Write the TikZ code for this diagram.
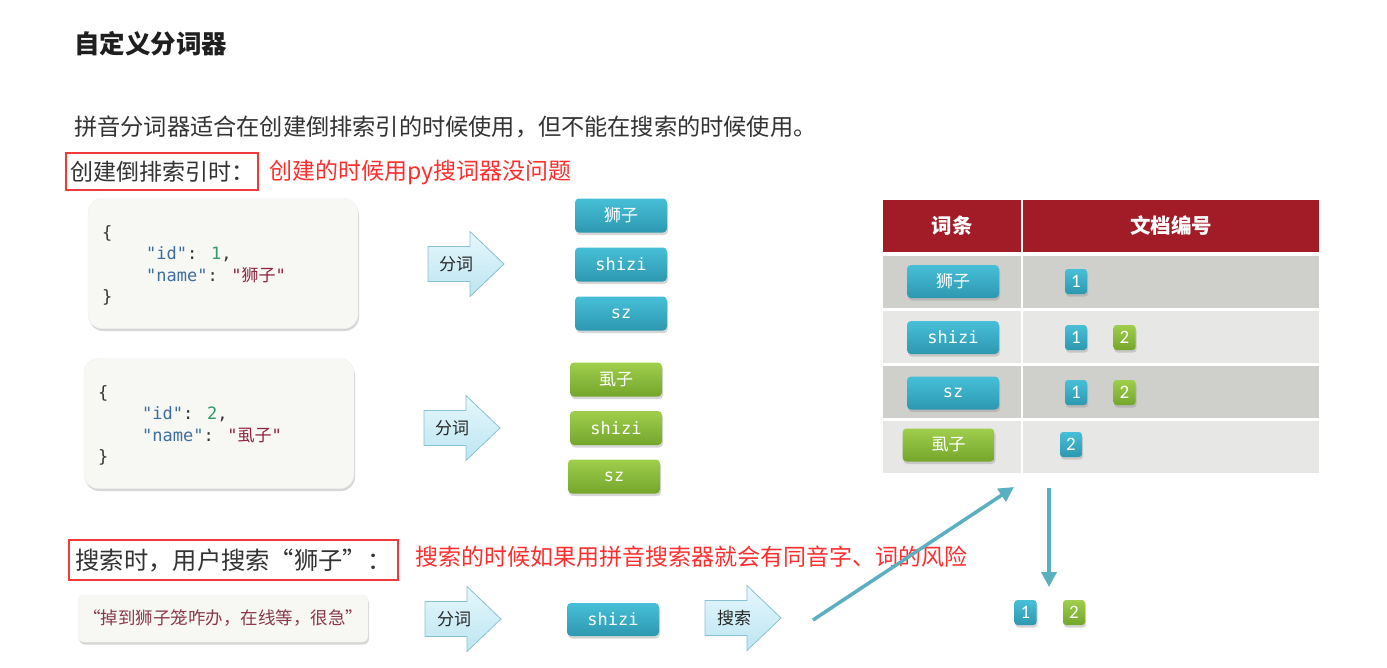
\documentclass[tikz,border=0pt]{standalone}
\usepackage{fontspec}
\setmainfont{Noto Sans CJK SC}
\newfontfamily\cjk{Noto Sans CJK SC}
\newfontfamily\mono{DejaVu Sans Mono}
\newfontfamily\digitfont{Carlito}
\usetikzlibrary{shadows,arrows.meta}
\definecolor{hdr}{HTML}{A11C27}
\definecolor{rowdark}{HTML}{CFCFCC}
\definecolor{rowlight}{HTML}{E7E7E6}
\definecolor{tealtop}{HTML}{47BFD8}
\definecolor{tealbot}{HTML}{2D98B0}
\definecolor{greentop}{HTML}{A0CE4C}
\definecolor{greenbot}{HTML}{74A62C}
\definecolor{redc}{HTML}{FF2E2E}
\definecolor{redbox}{HTML}{F23A3A}
\definecolor{keyc}{HTML}{3D6E9F}
\definecolor{numc}{HTML}{36996A}
\definecolor{strc}{HTML}{8E2444}
\definecolor{bodyc}{HTML}{333333}
\definecolor{arrline}{HTML}{5AAFC0}
\definecolor{arrtop}{HTML}{E6F7FC}
\definecolor{arrbot}{HTML}{BCE5F1}
\definecolor{arrdraw}{HTML}{88C2D2}
\definecolor{jsonfill}{HTML}{F7F7F3}
\definecolor{quotec}{HTML}{8A3A4C}
\tikzset{
  softshadow/.style={drop shadow={shadow xshift=1pt,shadow yshift=-2.5pt,opacity=0.35,fill=black!45}},
  tok/.style={rounded corners=4pt,inner sep=0pt,text=white,minimum width=92pt,minimum height=34pt,softshadow,font=\mono\fontsize{17}{17}\selectfont},
  bluetok/.style={tok,top color=tealtop,bottom color=tealbot},
  greentok/.style={tok,top color=greentop,bottom color=greenbot},
  badge/.style={rounded corners=3pt,inner sep=0pt,text=white,minimum width=22pt,minimum height=25pt,softshadow,font=\digitfont\fontsize{19}{19}\selectfont},
  bluebadge/.style={badge,top color=tealtop,bottom color=tealbot},
  greenbadge/.style={badge,top color=greentop,bottom color=greenbot},
  codebox/.style={rounded corners=14pt,fill=jsonfill,draw=black!6,minimum width=270pt,minimum height=130pt,softshadow},
  code/.style={anchor=west,inner sep=0pt,text=bodyc,font=\mono\fontsize{17}{17}\selectfont},
  arrtext/.style={inner sep=0pt,text=black!85,font=\fontsize{17}{17}\selectfont},
  redframe/.style={draw=redbox,line width=2.4pt,inner sep=0pt,text=bodyc},
  redtext/.style={anchor=west,inner sep=0pt,text=redc},
  hdrtext/.style={inner sep=0pt,text=white,font=\fontsize{20.5}{20.5}\selectfont\bfseries},
  blockarr/.pic={\path[top color=arrtop,bottom color=arrbot,draw=arrdraw,line width=0.8pt]
     (0,-17.5) -- (42,-17.5) -- (42,-32.5) -- (76,0) -- (42,32.5) -- (42,17.5) -- (0,17.5) -- cycle;},
  conn/.style={draw=arrline,line width=3.5pt,-{Triangle[length=15pt,width=15pt]}}
}
\begin{document}
\begin{tikzpicture}[x=1pt,y=-1pt]
\useasboundingbox[fill=white] (0,0) rectangle (1387,667);

% title and intro
\node[anchor=west,inner sep=0pt,text=black!88,font=\fontsize{25.5}{25.5}\selectfont\bfseries] (title) at (74,44) {自定义分词器};
\node[anchor=west,inner sep=0pt,text=bodyc,font=\fontsize{23.2}{23.2}\selectfont] (intro) at (74,127) {拼音分词器适合在创建倒排索引的时候使用，但不能在搜索的时候使用。};

% section 1 label
\node[redframe,minimum width=192pt,minimum height=37pt,font=\fontsize{23}{23}\selectfont] (lab1) at (162,171.5) {创建倒排索引时：};
\node[redtext,font=\fontsize{23}{23}\selectfont] (note1) at (269,172) {创建的时候用py搜词器没问题};

% json 1
\node[codebox] (json1) at (223,263.5) {};
\node[code] (j1a) at (102,233) {\{};
\node[code] (j1b) at (146,254) {\textcolor{keyc}{"id"}: \textcolor{numc}{1},};
\node[code] (j1c) at (146,275) {\textcolor{keyc}{"name"}: \textcolor{strc}{"{\cjk 狮子}"}};
\node[code] (j1d) at (102,297) {\}};

\pic at (428,264) {blockarr};
\node[arrtext] (fc1) at (456,264) {分词};

\node[bluetok] (a1) at (621,215.5) {\cjk 狮子};
\node[bluetok] (a2) at (621,264.5) {shizi};
\node[bluetok] (a3) at (621,313.5) {sz};

% json 2
\node[codebox] (json2) at (219,423.5) {};
\node[code] (j2a) at (98,393) {\{};
\node[code] (j2b) at (142,414) {\textcolor{keyc}{"id"}: \textcolor{numc}{2},};
\node[code] (j2c) at (142,436) {\textcolor{keyc}{"name"}: \textcolor{strc}{"{\cjk 虱子}"}};
\node[code] (j2d) at (98,457) {\}};

\pic at (424,428) {blockarr};
\node[arrtext] (fc2) at (452,428) {分词};

\node[greentok] (g1) at (616,379.5) {\cjk 虱子};
\node[greentok] (g2) at (616,428) {shizi};
\node[greentok] (g3) at (614,476.5) {sz};

% table
\fill[hdr] (883,200) rectangle (1021,252);
\fill[hdr] (1023,200) rectangle (1319,252);
\node[hdrtext] (h1) at (952,226) {词条};
\node[hdrtext] (h2) at (1171,226) {文档编号};
\foreach \i/\c in {0/rowdark,1/rowlight,2/rowdark,3/rowlight}{
  \fill[\c] (883,256+55*\i) rectangle (1021,308+55*\i);
  \fill[\c] (1023,256+55*\i) rectangle (1319,308+55*\i);
}
\node[bluetok,minimum height=33pt] (t1) at (953,281.5) {\cjk 狮子};
\node[bluetok,minimum height=33pt] (t2) at (953,337.5) {shizi};
\node[bluetok,minimum height=33pt] (t3) at (953,393) {sz};
\node[greentok,minimum height=33pt] (t4) at (948.5,445) {\cjk 虱子};
\node[bluebadge] (d11) at (1076,281.5) {1};
\node[bluebadge] (d21) at (1076,337.5) {1};
\node[greenbadge] (d22) at (1124.5,337.5) {2};
\node[bluebadge] (d31) at (1076,392.5) {1};
\node[greenbadge] (d32) at (1124.5,392.5) {2};
\node[bluebadge] (d41) at (1071,444.5) {2};

% search section
\node[redframe,minimum width=329pt,minimum height=40pt,font=\fontsize{24.3}{24.3}\selectfont] (lab2) at (233.5,560) {搜索时，用户搜索“狮子”：};
\node[redtext,font=\fontsize{23}{23}\selectfont] (note2) at (415,557) {搜索的时候如果用拼音搜索器就会有同音字、词的风险};

\node[rounded corners=6pt,fill=jsonfill,draw=black!6,minimum width=290pt,minimum height=47pt,softshadow,text=quotec,font=\fontsize{17.5}{17.5}\selectfont] (query) at (223,618.5) {“掉到狮子笼咋办，在线等，很急”};

\pic at (425,619) {blockarr};
\node[arrtext] (fc3) at (454,619) {分词};
\node[bluetok,minimum height=33pt] (q1) at (613,619.5) {shizi};
\pic at (705,618) {blockarr};
\node[arrtext] (ss) at (734,618) {搜索};

\coordinate (cs) at (813,620);
\coordinate (ct) at (1014,487);
\coordinate (vs) at (1049,488);
\coordinate (ve) at (1049,587);
\draw[conn] (cs) -- (ct);
\draw[conn] (vs) -- (ve);

\node[bluebadge] (r1) at (1025.5,612.5) {1};
\node[greenbadge] (r2) at (1074,612.5) {2};
\end{tikzpicture}
\end{document}
